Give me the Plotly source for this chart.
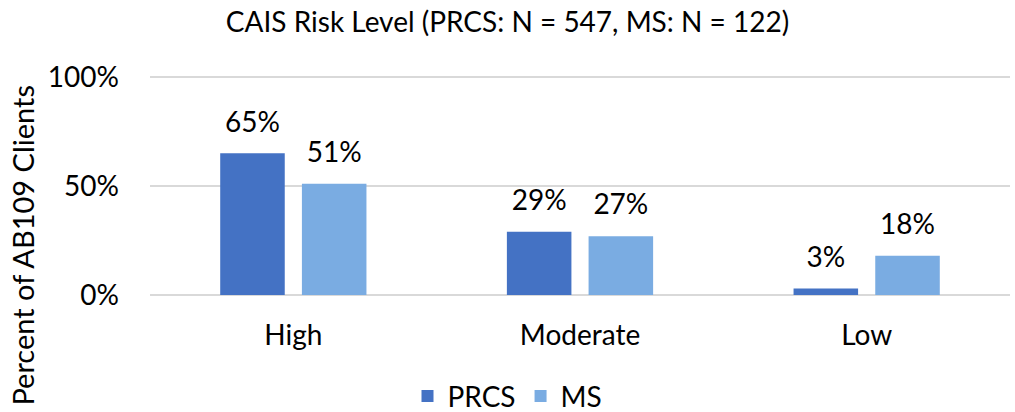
import plotly.graph_objects as go

categories = ["High", "Moderate", "Low"]
prcs = [0.65, 0.29, 0.03]
ms = [0.51, 0.27, 0.18]
series_names = ["PRCS", "MS"]
y_ticks = [0, 0.5, 1.0]
y_tick_labels = ["0%", "50%", "100%"]

font = "Lato"
fs = 28
colors = ["#4472C4", "#7AACE2"]

fig = go.Figure()
for name, vals, color in zip(series_names, [prcs, ms], colors):
    fig.add_trace(go.Bar(x=categories, y=vals, name=name,
                         marker=dict(color=color, line=dict(width=0))))
# data labels, grouped the same way as the bars
for name, vals in zip(series_names, [prcs, ms]):
    fig.add_trace(go.Scatter(x=categories, y=vals, mode="markers+text", showlegend=False,
                             text=[f"{v:.0%}" for v in vals], textposition="top center",
                             marker=dict(size=22, opacity=0), cliponaxis=False,
                             textfont=dict(family=font, size=fs, color="black"),
                             hoverinfo="skip"))

fig.update_layout(
    width=1015, height=412,
    margin=dict(l=150, r=5, t=72, b=117, autoexpand=False),
    paper_bgcolor="white", plot_bgcolor="white",
    font=dict(family=font, size=fs, color="black"),
    title=dict(text="CAIS Risk Level (PRCS: N = 547, MS: N = 122)", x=0.5, xanchor="center",
               xref="container", y=0.945, yanchor="middle", yref="container",
               font=dict(size=fs)),
    barmode="group", bargap=0.43, bargroupgap=0.21,
    scattermode="group", scattergap=0.43,
    showlegend=True,
    legend=dict(orientation="h", x=0.5, xanchor="center", xref="container",
                y=0.038, yanchor="middle", yref="container",
                font=dict(size=fs), itemwidth=30, tracegroupgap=0),
    annotations=[dict(text="Percent of AB109 Clients", textangle=-90, showarrow=False,
                      xref="paper", yref="paper", x=-0.148, y=0.225,
                      xanchor="center", yanchor="middle", font=dict(size=29))],
)
fig.update_yaxes(range=[0, 1.023], tickvals=y_ticks, ticktext=y_tick_labels,
                 showgrid=True, gridcolor="#D9D9D9", gridwidth=1.5,
                 zeroline=True, zerolinecolor="#D9D9D9", zerolinewidth=1.5,
                 ticks="", ticklabelstandoff=30)
fig.update_xaxes(showline=False, ticks="", ticklabelstandoff=21)

fig.write_html("out.html", config={"displayModeBar": False},
               post_script="document.body.style.margin='0';")
